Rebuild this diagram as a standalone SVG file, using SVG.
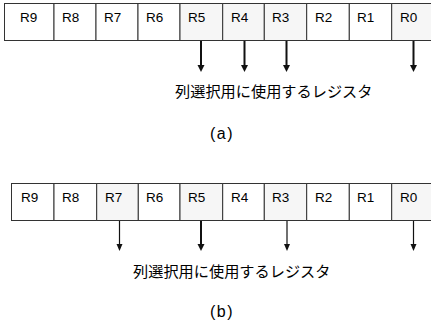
<svg xmlns="http://www.w3.org/2000/svg" width="431" height="321" viewBox="0 0 431 321">
<style>
.cell{fill:#fff;stroke:#333;stroke-width:1}
.sel{fill:#f6f6f6;stroke:#333;stroke-width:1}
.lbl{font-family:"Liberation Sans",Arial,sans-serif;font-size:13.5px;fill:#000}
.jp{font-family:"Noto Sans CJK JP","Noto Sans CJK SC",sans-serif;font-size:15.2px;fill:#000}
.cap{font-family:"Liberation Sans",Arial,sans-serif;font-size:16px;fill:#000;letter-spacing:1.5px}
.thick{stroke:#111;stroke-width:2;fill:none}
.thin{stroke:#111;stroke-width:1.2;fill:none}
.head{fill:#111}
</style>
<g id="rowA">
<g id="a-R9"><rect class="cell" x="4.5" y="3.5" width="49.5" height="37"/><text class="lbl" x="20" y="22">R9</text></g>
<g id="a-R8"><rect class="cell" x="54" y="3.5" width="42" height="37"/><text class="lbl" x="62" y="22">R8</text></g>
<g id="a-R7"><rect class="cell" x="96" y="3.5" width="42" height="37"/><text class="lbl" x="104" y="22">R7</text></g>
<g id="a-R6"><rect class="cell" x="138" y="3.5" width="42" height="37"/><text class="lbl" x="146" y="22">R6</text></g>
<g id="a-R5"><rect class="sel" x="180" y="3.5" width="42.7" height="37"/><text class="lbl" x="188" y="22">R5</text></g>
<g id="a-R4"><rect class="sel" x="222.7" y="3.5" width="41.6" height="37"/><text class="lbl" x="231" y="22">R4</text></g>
<g id="a-R3"><rect class="sel" x="264.3" y="3.5" width="42.4" height="37"/><text class="lbl" x="272" y="22">R3</text></g>
<g id="a-R2"><rect class="cell" x="306.7" y="3.5" width="42.6" height="37"/><text class="lbl" x="315" y="22">R2</text></g>
<g id="a-R1"><rect class="cell" x="349.3" y="3.5" width="42.4" height="37"/><text class="lbl" x="357" y="22">R1</text></g>
<g id="a-R0"><rect class="sel" x="391.7" y="3.5" width="45" height="37"/><text class="lbl" x="400" y="22">R0</text></g>
</g>
<g id="rowB">
<g id="b-R9"><rect class="cell" x="11.5" y="183.5" width="42.5" height="37"/><text class="lbl" x="21" y="202">R9</text></g>
<g id="b-R8"><rect class="cell" x="54" y="183.5" width="42.7" height="37"/><text class="lbl" x="62" y="202">R8</text></g>
<g id="b-R7"><rect class="sel" x="96.7" y="183.5" width="41.6" height="37"/><text class="lbl" x="105" y="202">R7</text></g>
<g id="b-R6"><rect class="cell" x="138.3" y="183.5" width="41.7" height="37"/><text class="lbl" x="146" y="202">R6</text></g>
<g id="b-R5"><rect class="sel" x="180" y="183.5" width="42.7" height="37"/><text class="lbl" x="188" y="202">R5</text></g>
<g id="b-R4"><rect class="cell" x="222.7" y="183.5" width="41.6" height="37"/><text class="lbl" x="231" y="202">R4</text></g>
<g id="b-R3"><rect class="sel" x="264.3" y="183.5" width="42.4" height="37"/><text class="lbl" x="272" y="202">R3</text></g>
<g id="b-R2"><rect class="cell" x="306.7" y="183.5" width="42.6" height="37"/><text class="lbl" x="315" y="202">R2</text></g>
<g id="b-R1"><rect class="cell" x="349.3" y="183.5" width="42.4" height="37"/><text class="lbl" x="357" y="202">R1</text></g>
<g id="b-R0"><rect class="sel" x="391.7" y="183.5" width="45" height="37"/><text class="lbl" x="400" y="202">R0</text></g>
</g>
<g id="connectors">
<line class="thick" x1="201" y1="41" x2="201" y2="66"/><polygon class="head" points="197.5,65 204.5,65 201,72"/>
<line class="thick" x1="244.5" y1="41" x2="244.5" y2="66"/><polygon class="head" points="241,65 248,65 244.5,72"/>
<line class="thick" x1="286.5" y1="41" x2="286.5" y2="66"/><polygon class="head" points="283,65 290,65 286.5,72"/>
<line class="thick" x1="413.5" y1="41" x2="413.5" y2="66"/><polygon class="head" points="410,65 417,65 413.5,72"/>
<line class="thin" x1="119.5" y1="221" x2="119.5" y2="245"/><polygon class="head" points="116.5,244 122.5,244 119.5,251"/>
<line class="thick" x1="201" y1="221" x2="201" y2="245"/><polygon class="head" points="197.5,244 204.5,244 201,251"/>
<line class="thin" x1="287" y1="221" x2="287" y2="245"/><polygon class="head" points="284,244 290,244 287,251"/>
<line class="thin" x1="413.5" y1="221" x2="413.5" y2="245"/><polygon class="head" points="410.5,244 416.5,244 413.5,251"/>
</g>
<g id="captions">
<text class="jp" x="175" y="97">列選択用に使用するレジスタ</text>
<text class="cap" x="210" y="139">(a)</text>
<text class="jp" x="133" y="277">列選択用に使用するレジスタ</text>
<text class="cap" x="210" y="317">(b)</text>
</g>
</svg>
